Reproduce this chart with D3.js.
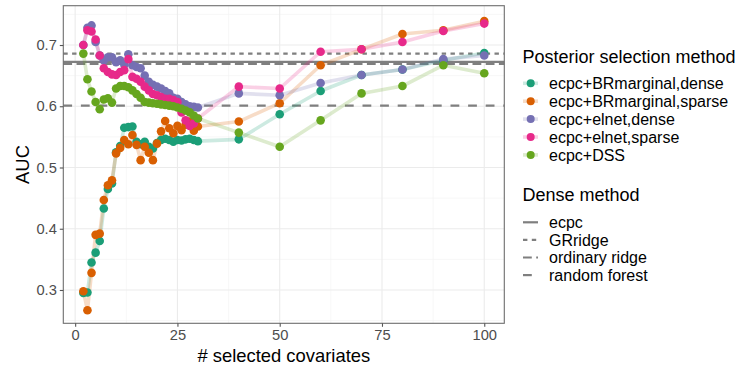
<!DOCTYPE html>
<html>
<head>
<meta charset="utf-8">
<script src="https://cdn.jsdelivr.net/npm/d3@7"></script>
<style>
  body { margin: 0; background: #fff; }
  svg { font-family: "Liberation Sans", Arial, sans-serif; }
</style>
</head>
<body>
<svg width="742" height="368"></svg>
<script>
// # selected covariates
var xs = [2,3,4,5,6,7,8,9,10,11,12,13,14,15,16,17,18,19,20,21,22,23,24,25,26,27,28,29,30,40,50,60,70,80,90,100];

// AUC per posterior selection method
var brDense  = [0.295,0.296,0.345,0.361,0.380,0.433,0.465,0.474,0.525,0.535,0.565,0.566,0.567,0.542,0.538,0.542,0.534,0.531,0.540,0.545,0.547,0.545,0.542,0.545,0.544,0.546,0.547,0.545,0.543,
                0.546,0.587,0.625,0.651,0.660,0.675,0.687];
var brSparse = [0.298,0.267,0.328,0.390,0.392,0.447,0.471,0.479,0.523,0.532,0.545,0.538,0.553,0.537,0.512,0.534,0.524,0.512,0.539,0.559,0.576,0.564,0.556,0.568,0.561,0.570,0.575,0.560,0.567,
                0.575,0.605,0.667,0.693,0.718,0.724,0.739];
var elDense  = [0.700,0.728,0.732,0.705,0.683,0.675,0.680,0.680,0.672,0.675,0.668,0.685,0.667,0.664,0.662,0.650,0.640,0.635,0.632,0.629,0.625,0.621,0.614,0.612,0.607,0.603,0.600,0.599,0.598,
                0.621,0.618,0.638,0.651,0.660,0.677,0.683];
var elSparse = [0.700,0.724,0.722,0.709,0.683,0.662,0.656,0.652,0.651,0.656,0.659,0.677,0.648,0.645,0.640,0.632,0.626,0.620,0.618,0.615,0.612,0.612,0.610,0.607,0.590,0.577,0.568,0.572,0.580,
                0.632,0.629,0.689,0.693,0.705,0.723,0.735];
var dss      = [0.686,0.644,0.624,0.607,0.595,0.611,0.613,0.606,0.629,0.633,0.633,0.631,0.626,0.620,0.614,0.607,0.606,0.605,0.604,0.603,0.602,0.601,0.600,0.598,0.596,0.593,0.590,0.585,0.580,
                0.557,0.534,0.577,0.621,0.633,0.667,0.654];

var methods = ["ecpc+BRmarginal,dense","ecpc+BRmarginal,sparse","ecpc+elnet,dense","ecpc+elnet,sparse","ecpc+DSS"];
var methodValues = [brDense, brSparse, elDense, elSparse, dss];

// dense reference methods (horizontal lines)
var denseMethods = ["ecpc","GRridge","ordinary ridge","random forest"];
var denseAuc = [0.6725, 0.686, 0.669, 0.601];

var xTicks = [0,25,50,75,100];
var yTicks = [0.3,0.4,0.5,0.6,0.7];

var colors = ["#1B9E77","#D95F02","#7570B3","#E7298A","#66A61E"];
var dashes = [null, "4.4,4.4", "8.8,4.4", "8.8,8.8"];

var svg = d3.select("svg");
var pLeft = 63.3, pRight = 504.3, pTop = 5.7, pBottom = 323.3;

var x = d3.scaleLinear().domain([-2.9, 104.9]).range([pLeft, pRight]);
var y = d3.scaleLinear().domain([0.2456, 0.7642]).range([pBottom, pTop]);

// grid
var grid = svg.append("g");
var xMinor = [12.5,37.5,62.5,87.5];
var yMinor = [0.25,0.35,0.45,0.55,0.65,0.75];
grid.selectAll(".xm").data(xMinor).enter().append("line")
  .attr("x1", d => x(d)).attr("x2", d => x(d)).attr("y1", pTop).attr("y2", pBottom)
  .attr("stroke", "#f2f2f2").attr("stroke-width", 0.6);
grid.selectAll(".ym").data(yMinor).enter().append("line")
  .attr("x1", pLeft).attr("x2", pRight).attr("y1", d => y(d)).attr("y2", d => y(d))
  .attr("stroke", "#f2f2f2").attr("stroke-width", 0.6);
grid.selectAll(".xM").data(xTicks).enter().append("line")
  .attr("x1", d => x(d)).attr("x2", d => x(d)).attr("y1", pTop).attr("y2", pBottom)
  .attr("stroke", "#ebebeb").attr("stroke-width", 1.1);
grid.selectAll(".yM").data(yTicks).enter().append("line")
  .attr("x1", pLeft).attr("x2", pRight).attr("y1", d => y(d)).attr("y2", d => y(d))
  .attr("stroke", "#ebebeb").attr("stroke-width", 1.1);

// dense method lines
svg.append("g").selectAll("line").data(denseAuc).enter().append("line")
  .attr("x1", pLeft).attr("x2", pRight)
  .attr("y1", d => y(d)).attr("y2", d => y(d))
  .attr("stroke", "#7f7f7f").attr("stroke-width", 2.2)
  .attr("stroke-dasharray", (d, i) => dashes[i]);

// series lines
var line = d3.line().x((d, i) => x(xs[i])).y(d => y(d));
svg.append("g").selectAll("path").data(methodValues).enter().append("path")
  .attr("d", d => line(d))
  .attr("fill", "none")
  .attr("stroke", (d, i) => colors[i])
  .attr("stroke-opacity", 0.22)
  .attr("stroke-width", 3.6)
  .attr("stroke-linejoin", "round");

// points
methodValues.forEach(function(vals, k) {
  svg.append("g").selectAll("circle").data(vals).enter().append("circle")
    .attr("cx", (d, i) => x(xs[i]))
    .attr("cy", d => y(d))
    .attr("r", 4.3)
    .attr("fill", colors[k]);
});

// panel border
svg.append("rect").attr("x", pLeft).attr("y", pTop)
  .attr("width", pRight - pLeft).attr("height", pBottom - pTop)
  .attr("fill", "none").attr("stroke", "#6e6e6e").attr("stroke-width", 1.1);

// axes
var xAxis = d3.axisBottom(x).tickValues(xTicks).tickSize(3.5).tickPadding(3);
var gx = svg.append("g").attr("transform", "translate(0," + pBottom + ")").call(xAxis);
var yAxis = d3.axisLeft(y).tickValues(yTicks).tickSize(3.5).tickPadding(3).tickFormat(d3.format(".1f"));
var gy = svg.append("g").attr("transform", "translate(" + pLeft + ",0)").call(yAxis);
[gx, gy].forEach(function(g) {
  g.select(".domain").remove();
  g.selectAll(".tick line").attr("stroke", "#555").attr("stroke-width", 1.1);
  g.selectAll(".tick text").attr("fill", "#4d4d4d").style("font-size", "14.7px")
    .style("font-family", "'Liberation Sans', Arial, sans-serif");
});

svg.append("text").attr("x", (pLeft + pRight) / 2).attr("y", 361.5)
  .attr("text-anchor", "middle").style("font-size", "18.4px").text("# selected covariates");
svg.append("text").attr("transform", "translate(28.5," + ((pTop + pBottom) / 2) + ") rotate(-90)")
  .attr("text-anchor", "middle").style("font-size", "18.4px").text("AUC");

// legend: posterior selection method
var lg = svg.append("g");
lg.append("text").attr("x", 522.5).attr("y", 63).style("font-size", "18px").text("Posterior selection method");
methods.forEach(function(m, i) {
  var cy = 83.3 + i * 17.9;
  lg.append("line").attr("x1", 523).attr("x2", 538).attr("y1", cy).attr("y2", cy)
    .attr("stroke", colors[i]).attr("stroke-opacity", 0.22).attr("stroke-width", 3.6);
  lg.append("circle").attr("cx", 530.7).attr("cy", cy).attr("r", 4).attr("fill", colors[i]);
  lg.append("text").attr("x", 549).attr("y", cy + 5.6).style("font-size", "16px").text(m);
});

// legend: dense method
lg.append("text").attr("x", 522.5).attr("y", 201).style("font-size", "18px").text("Dense method");
denseMethods.forEach(function(m, i) {
  var cy = 222.3 + i * 17.6;
  lg.append("line").attr("x1", 523).attr("x2", 538).attr("y1", cy).attr("y2", cy)
    .attr("stroke", "#7f7f7f").attr("stroke-width", 2.2)
    .attr("stroke-dasharray", dashes[i]);
  lg.append("text").attr("x", 549).attr("y", cy + 5.6).style("font-size", "16px").text(m);
});
</script>
</body>
</html>
